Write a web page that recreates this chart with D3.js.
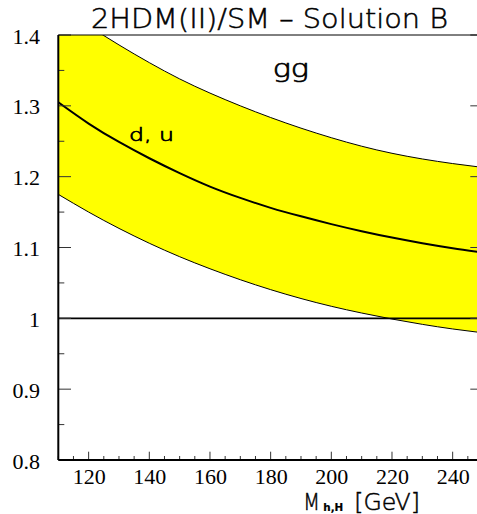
<!DOCTYPE html>
<html>
<head>
<meta charset="utf-8">
<script src="https://cdn.jsdelivr.net/npm/d3@7"></script>
<style>
  html, body { margin: 0; padding: 0; background: #fff; }
  svg { display: block; }
  .sans { font-family: "DejaVu Sans", "Liberation Sans", sans-serif; font-weight: 200; }
  .serif { font-family: "Liberation Serif", "Times New Roman", serif; }
</style>
</head>
<body>
<svg id="chart" width="477" height="514"></svg>
<script>
// ---- data ----
const mass = [110, 120, 130, 140, 150, 160, 170, 180, 190, 200, 210, 220, 230, 240, 250];
const central = [1.305, 1.275, 1.249, 1.226, 1.205, 1.186, 1.170, 1.156, 1.144, 1.133, 1.123, 1.114, 1.106, 1.099, 1.093];
const upper = [1.442, 1.413, 1.386, 1.361, 1.338, 1.318, 1.300, 1.2835, 1.2685, 1.255, 1.243, 1.233, 1.225, 1.2185, 1.213];
const lower = [1.175, 1.150, 1.127, 1.106, 1.087, 1.070, 1.0545, 1.0405, 1.028, 1.017, 1.0075, 0.999, 0.9915, 0.985, 0.9795];
const xTickLabels = [120, 140, 160, 180, 200, 220, 240];
const yTickLabels = [0.8, 0.9, 1.0, 1.1, 1.2, 1.3, 1.4];
const referenceLevel = 1.0;
const titleText = "2HDM(II)/SM \u2013 Solution B";
const processLabel = "gg";
const curveLabel = "d, u";
const xAxisMain = "M";
const xAxisSub = "h,H";
const xAxisUnit = "[GeV]";

// ---- layout ----
const svg = d3.select("#chart");
const L = 58.3, R = 483, T = 35, B = 460;
const x = d3.scaleLinear().domain([110, 250]).range([L, R]);
const y = d3.scaleLinear().domain([0.8, 1.4]).range([B, T]);

svg.append("defs").append("clipPath").attr("id", "plotclip")
  .append("rect").attr("x", L).attr("y", T).attr("width", R - L).attr("height", B - T);

const plot = svg.append("g").attr("clip-path", "url(#plotclip)");

const rows = mass.map((m, i) => ({ m, c: central[i], u: upper[i], l: lower[i] }));
const curve = d3.curveNatural;

// band
plot.append("path").datum(rows)
  .attr("fill", "#ffff00")
  .attr("d", d3.area().curve(curve).x(d => x(d.m)).y0(d => y(d.l)).y1(d => y(d.u)));

// band edges
["u", "l"].forEach(k => {
  plot.append("path").datum(rows)
    .attr("fill", "none").attr("stroke", "#000").attr("stroke-width", 1)
    .attr("d", d3.line().curve(curve).x(d => x(d.m)).y(d => y(d[k])));
});

// reference line at 1
plot.append("line")
  .attr("x1", L).attr("x2", R).attr("y1", y(referenceLevel)).attr("y2", y(referenceLevel))
  .attr("stroke", "#000").attr("stroke-width", 1.6);

// central curve
plot.append("path").datum(rows)
  .attr("fill", "none").attr("stroke", "#000").attr("stroke-width", 2)
  .attr("d", d3.line().curve(curve).x(d => x(d.m)).y(d => y(d.c)));

// ---- ticks ----
const tickG = svg.append("g").attr("stroke", "#333").attr("stroke-width", 1);
const yMinor = d3.range(0.8, 1.4001, 0.05).map(v => +v.toFixed(2));
yMinor.forEach(v => {
  const major = Math.abs(v * 10 - Math.round(v * 10)) < 1e-6;
  const len = major ? 12.7 : 6;
  tickG.append("line").attr("x1", L).attr("x2", L + len).attr("y1", y(v)).attr("y2", y(v));
  tickG.append("line").attr("x1", R).attr("x2", R - len).attr("y1", y(v)).attr("y2", y(v));
});
const xMinor = d3.range(110, 250.001, 5);
xMinor.forEach(v => {
  const major = v % 20 === 0;
  const len = major ? 8.3 : 4;
  tickG.append("line").attr("x1", x(v)).attr("x2", x(v)).attr("y1", B).attr("y2", B - len);
});

// frame
svg.append("line").attr("x1", L).attr("x2", R).attr("y1", T).attr("y2", T)
  .attr("stroke", "#000").attr("stroke-width", 1);
svg.append("line").attr("x1", L).attr("x2", L).attr("y1", T).attr("y2", B)
  .attr("stroke", "#000").attr("stroke-width", 2);
svg.append("line").attr("x1", L).attr("x2", R).attr("y1", B).attr("y2", B)
  .attr("stroke", "#000").attr("stroke-width", 2);
svg.append("line").attr("x1", R).attr("x2", R).attr("y1", T).attr("y2", B)
  .attr("stroke", "#000").attr("stroke-width", 1.5);

// ---- axis labels via d3 axes ----
const yAxis = d3.axisLeft(y).tickValues(yTickLabels).tickSize(0).tickPadding(18.3)
  .tickFormat(d => d === 1 ? "1" : d3.format(".1f")(d));
const yg = svg.append("g").attr("transform", `translate(${L},0)`).call(yAxis);
yg.select(".domain").remove();
yg.selectAll("text").attr("class", "serif").attr("font-family", null)
  .style("font-size", "22px").attr("fill", "#000").attr("dy", "0.37em");

const xAxis = d3.axisBottom(x).tickValues(xTickLabels).tickSize(0).tickPadding(8)
  .tickFormat(d3.format("d"));
const xg = svg.append("g").attr("transform", `translate(0,${B})`).call(xAxis);
xg.select(".domain").remove();
xg.selectAll("text").attr("class", "serif").attr("font-family", null)
  .style("font-size", "22px").attr("fill", "#000");

// ---- texts ----
function label(txt, xx, yy, size, len, sw) {
  return svg.append("text").attr("class", "sans")
    .attr("x", xx).attr("y", yy)
    .attr("textLength", len).attr("lengthAdjust", "spacingAndGlyphs")
    .style("font-size", size + "px")
    .attr("fill", "#000").attr("stroke", "#000").attr("stroke-width", sw)
    .text(txt);
}
label(titleText, 91, 27.7, 26.7, 357, 0.5);
label(processLabel, 272.7, 76.7, 24.5, 36.3, 0.7);
label(curveLabel, 129, 141, 17, 45, 0.7);
label(xAxisMain, 303.3, 509.7, 23, 16.7, 0.5);
label(xAxisSub, 323.3, 511, 10.5, 20, 0.2).style("font-weight", "bold");
label(xAxisUnit, 354.3, 509.7, 23, 65.7, 0.5);
</script>
</body>
</html>
